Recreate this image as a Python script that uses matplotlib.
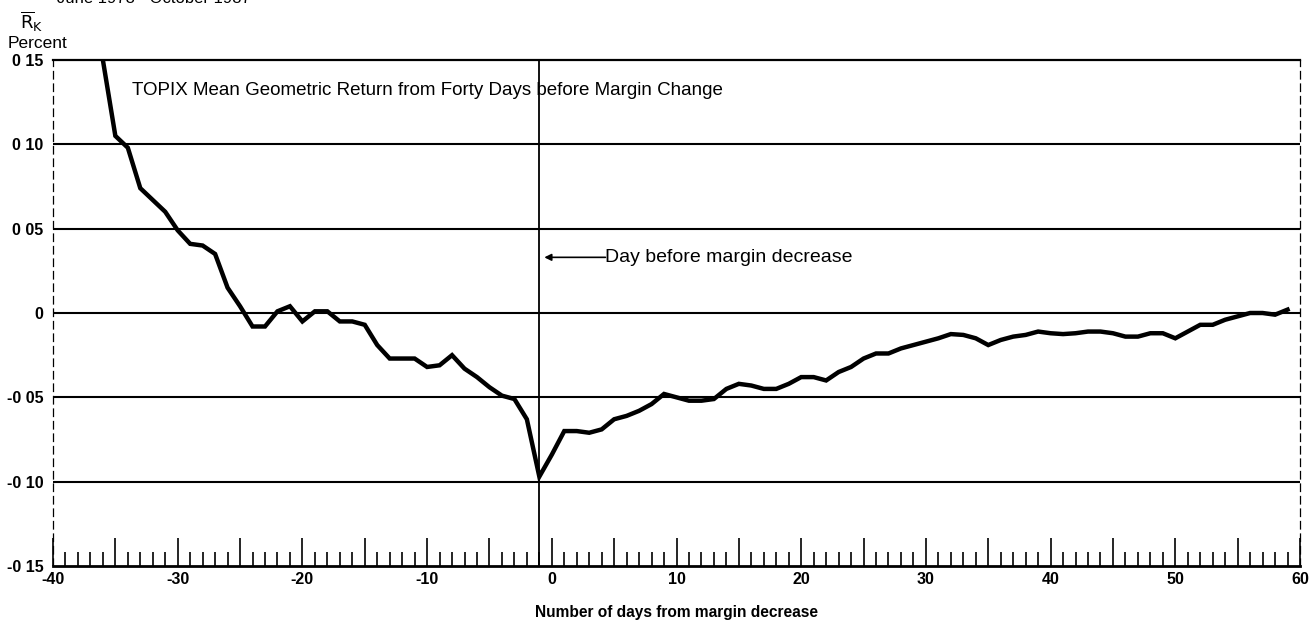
import matplotlib
matplotlib.use("Agg")
import matplotlib.pyplot as plt
import numpy as np

plt.rcParams['font.family'] = ['Liberation Sans', 'DejaVu Sans']

# ---- data ----
days = list(range(-36, 60))
returns = [
    0.150, 0.105, 0.098, 0.074, 0.067, 0.060, 0.049, 0.041, 0.040, 0.035,   # -36..-27
    0.015, 0.004, -0.008, -0.008, 0.001, 0.004, -0.005, 0.001, 0.001, -0.005,  # -26..-17
    -0.005, -0.007, -0.019, -0.027, -0.027, -0.027, -0.032, -0.031, -0.025, -0.033,  # -16..-7
    -0.038, -0.044, -0.049, -0.051, -0.063, -0.097, -0.084, -0.070, -0.070, -0.071,  # -6..3
    -0.069, -0.063, -0.061, -0.058, -0.054, -0.048, -0.050, -0.052, -0.052, -0.051,  # 4..13
    -0.045, -0.042, -0.043, -0.045, -0.045, -0.042, -0.038, -0.038, -0.040, -0.035,  # 14..23
    -0.032, -0.027, -0.024, -0.024, -0.021, -0.019, -0.017, -0.015, -0.0125, -0.013,  # 24..33
    -0.015, -0.019, -0.016, -0.014, -0.013, -0.011, -0.012, -0.0125, -0.012, -0.011,  # 34..43
    -0.011, -0.012, -0.014, -0.014, -0.012, -0.012, -0.015, -0.011, -0.007, -0.007,  # 44..53
    -0.004, -0.002, 0.000, 0.000, -0.001, 0.002,  # 54..59
]
y_ticks = [0.15, 0.10, 0.05, 0.0, -0.05, -0.10, -0.15]
y_labels = ["0 15", "0 10", "0 05", "0", "-0 05", "-0 10", "-0 15"]
x_label_ticks = [-40, -30, -20, -10, 0, 10, 20, 30, 40, 50, 60]
event_day = -1

W, H = 1314, 633
fig = plt.figure(figsize=(W / 100, H / 100), dpi=100)
L, R, T, B = 53, 1300, 60, 566
ax = fig.add_axes([L / W, (H - B) / H, (R - L) / W, (B - T) / H])

ax.set_xlim(-40, 60)
ax.set_ylim(-0.15, 0.15)

# horizontal rules
for yv in [0.10, 0.05, 0.0, -0.05, -0.10]:
    ax.axhline(yv, color='black', lw=1.5, zorder=1)

# vertical event line
ax.axvline(event_day, color='black', lw=1.3, zorder=1)

# curve
ax.plot(days, returns, color='black', lw=3.2, solid_joinstyle='miter', zorder=3)

# spines
ax.spines['top'].set_linewidth(1.6)
ax.spines['bottom'].set_linewidth(2.0)
for s in ['left', 'right']:
    ax.spines[s].set_linestyle((0, (6, 4)))
    ax.spines[s].set_linewidth(0.9)

# x ticks
major = list(range(-40, 61, 5))
ax.set_xticks(major)
ax.set_xticklabels([str(v) if v in x_label_ticks else '' for v in major],
                   fontsize=11.5, fontweight='bold')
ax.set_xticks(list(range(-40, 61, 1)), minor=True)
ax.tick_params(axis='x', which='major', direction='in', length=20, width=1.2, pad=4)
ax.tick_params(axis='x', which='minor', direction='in', length=10, width=1.2)

# y ticks
ax.set_yticks(y_ticks)
ax.set_yticklabels(y_labels, fontsize=11.5, fontweight='bold')
ax.tick_params(axis='y', length=0, pad=7)

ax.set_xlabel('Number of days from margin decrease', fontsize=11.2,
              fontweight='bold', labelpad=13)

# texts
ax.text(-33.66, 0.132, 'TOPIX Mean Geometric Return from Forty Days before Margin Change',
        fontsize=13.5, va='center', ha='left')
ax.annotate('', xy=(-0.6, 0.033), xytext=(4.3, 0.033),
            arrowprops=dict(arrowstyle='-|>', color='black', lw=1.2,
                            mutation_scale=10, shrinkA=0, shrinkB=0))
ax.text(4.3, 0.033, 'Day before margin decrease', fontsize=14, va='center', ha='left')

fig.text(57 / W, 1 - 6 / H, 'June 1978 - October 1987', fontsize=12, va='bottom', ha='left')
fig.text(20 / W, 1 - 22 / H, r'$\overline{\mathrm{R}}_{\mathrm{K}}$', fontsize=13,
         va='center', ha='left')
fig.text(8 / W, 1 - 44 / H, 'Percent', fontsize=12.5, va='center', ha='left')

fig.savefig('out.png', dpi=100)
